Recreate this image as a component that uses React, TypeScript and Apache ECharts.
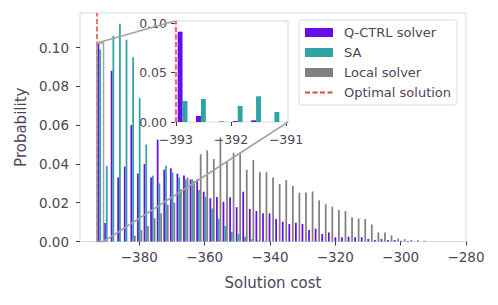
import React, { useEffect, useRef } from "react";
import * as echarts from "echarts";

// ---- data ----
const BIN_START = -393;
const BIN_WIDTH = 2.015;
const qctrl = [
  0.102, 0.0095, 0.088, 0.033, 0.0386, 0.06, 0.035, 0.04, 0.033, 0.0525,
  0.037, 0.0377, 0.035, 0.034, 0.032, 0.032, 0.0257, 0.0223, 0.023, 0.0205,
  0.0228, 0.0177, 0.0257, 0.0168, 0.0157, 0.0145, 0.0145, 0.0116, 0.0102, 0.009,
  0.0097, 0.009, 0.0059, 0.0066, 0.0039, 0.0047, 0.0022, 0.0022, 0.0025, 0.0022,
  0.0022, 0.0013, 0.0008, 0.0013, 0.0008, 0.0008, 0.0004, 0.0003, 0, 0,
];
const sa = [
  0.099, 0.039, 0.106, 0.1122, 0.104, 0.095, 0.074, 0.05, 0.034, 0.03,
  0.039, 0.0355, 0.033, 0.032, 0.032, 0.0265, 0.023, 0.017, 0.0117, 0.008,
  0.005, 0.0038, 0.0025, 0.0012, 0.0005, 0.0003, 0, 0, 0, 0,
  0, 0, 0, 0, 0, 0, 0, 0, 0, 0,
  0, 0, 0, 0, 0, 0, 0, 0, 0, 0,
];
const local = [
  0, 0, 0, 0, 0, 0.003, 0.006, 0.008, 0.012, 0.0145,
  0.019, 0.02, 0.027, 0.033, 0.031, 0.045, 0.047, 0.0425, 0.0537, 0.041,
  0.0458, 0.0455, 0.037, 0.042, 0.0357, 0.0357, 0.033, 0.0296, 0.0317, 0.0287,
  0.0252, 0.0252, 0.0258, 0.0212, 0.0192, 0.018, 0.0163, 0.0157, 0.0125, 0.0118,
  0.0116, 0.0088, 0.0047, 0.0047, 0.0032, 0.0016, 0.0012, 0.0008, 0.0007, 0.0004,
];

const INSET_BIN_START = -393;
const INSET_BIN_WIDTH = 1 / 3;
const insetQctrl = [0.0915, 0.0061, 0, 0.001, 0.0017, 0];
const insetSa = [0.0213, 0.0233, 0.0007, 0.0162, 0.026, 0.0101];
const insetLocal = [0, 0, 0, 0, 0, 0];

const OPTIMAL = -393;
const xTicks = [-380, -360, -340, -320, -300, -280];
const yTicks = [0, 0.02, 0.04, 0.06, 0.08, 0.1];
const insetXTicks = [-393, -392, -391];
const insetYTicks = [0, 0.05, 0.1];

const X_MIN = -398.17;
const X_MAX = -280;
const Y_MAX = 0.1178;
const INSET_X_MIN = -393.015;
const INSET_X_MAX = -390.965;
const INSET_Y_MAX = 0.1023;

// ---- styles ----
const FONT = "DejaVu Sans";
const TEXT = "#4f4459";
const SPINE = "#d3dbe8";
const TICK = "#3d3d3d";
const C_Q = "#6a0ce8";
const C_SA = "#2ea4a4";
const C_LOCAL = "#808080";
const C_OPT = "#e8433f";
const INDICATOR = "#a3a3a3";

const MAIN = { left: 80, top: 13, width: 386, height: 228.5 };
const INSET = { left: 175, top: 21, width: 113, height: 101 };

const minusFmt = (v: number) => (v < 0 ? "\u2212" + Math.abs(v) : String(v));

function histSeries(name: string, values: number[], start: number, width: number, slot: number, color: string, axis: number, z: number) {
  return {
    type: "custom",
    name,
    xAxisIndex: axis,
    yAxisIndex: axis,
    z,
    itemStyle: { color },
    data: values.map((v, i) => [start + i * width, v]),
    encode: { x: 0, y: 1 },
    renderItem: (params: any, api: any) => {
      const v = api.value(1);
      if (!v) return null;
      const x0 = api.value(0) + width * (0.1 + (slot * 0.8) / 3);
      const x1 = x0 + (width * 0.8) / 3;
      const p0 = api.coord([x0, v]);
      const p1 = api.coord([x1, 0]);
      return {
        type: "rect",
        shape: { x: p0[0], y: p0[1], width: p1[0] - p0[0], height: p1[1] - p0[1] },
        style: { fill: color },
      };
    },
  };
}

export default function App() {
  const ref = useRef<HTMLDivElement>(null);
  useEffect(() => {
    if (!ref.current) return;
    const chart = echarts.init(ref.current, null, { renderer: "svg" });
    const axisLabelBase = { fontFamily: FONT, color: TEXT };
    const option: any = {
      animation: false,
      backgroundColor: "#fff",
      textStyle: { fontFamily: FONT },
      grid: [
        { ...MAIN, show: true, borderColor: SPINE, borderWidth: 1, backgroundColor: "#fff", containLabel: false },
        { ...INSET, show: true, borderColor: SPINE, borderWidth: 1, backgroundColor: "#fff", containLabel: false, z: 3 },
      ],
      xAxis: [
        {
          type: "value", gridIndex: 0, min: X_MIN, max: X_MAX,
          axisLine: { show: false }, splitLine: { show: false },
          axisTick: { show: true, customValues: xTicks, length: 4, lineStyle: { color: TICK } },
          axisLabel: { ...axisLabelBase, customValues: xTicks, formatter: minusFmt, fontSize: 13.5, margin: 8 },
          name: "Solution cost", nameLocation: "middle", nameGap: 34,
          nameTextStyle: { fontFamily: FONT, color: TEXT, fontSize: 15 },
        },
        {
          type: "value", gridIndex: 1, min: INSET_X_MIN, max: INSET_X_MAX, z: 6,
          axisLine: { show: false }, splitLine: { show: false },
          axisTick: { show: true, customValues: insetXTicks, length: 4, lineStyle: { color: TICK } },
          axisLabel: { ...axisLabelBase, customValues: insetXTicks, formatter: minusFmt, fontSize: 12.5, margin: 11 },
        },
      ],
      yAxis: [
        {
          type: "value", gridIndex: 0, min: 0, max: Y_MAX,
          axisLine: { show: false }, splitLine: { show: false },
          axisTick: { show: true, customValues: yTicks, length: 4, lineStyle: { color: TICK } },
          axisLabel: { ...axisLabelBase, customValues: yTicks, formatter: (v: number) => v.toFixed(2), fontSize: 13.5, margin: 11 },
          name: "Probability", nameLocation: "middle", nameGap: 52,
          nameTextStyle: { fontFamily: FONT, color: TEXT, fontSize: 15 },
        },
        {
          type: "value", gridIndex: 1, min: 0, max: INSET_Y_MAX, z: 6,
          axisLine: { show: false }, splitLine: { show: false },
          axisTick: { show: true, customValues: insetYTicks, length: 4, lineStyle: { color: TICK } },
          axisLabel: { ...axisLabelBase, customValues: insetYTicks, formatter: (v: number) => v.toFixed(2), fontSize: 12.5, margin: 8 },
        },
      ],
      legend: {
        orient: "vertical", left: 299, top: 20,
        padding: [6, 6, 6, 5], itemGap: 7, itemWidth: 28, itemHeight: 9,
        borderColor: SPINE, borderWidth: 1, borderRadius: 3,
        backgroundColor: "rgba(255,255,255,0.8)",
        textStyle: { fontFamily: FONT, fontSize: 13, color: TEXT, padding: [0, 0, 0, 6] },
        data: [
          { name: "Q-CTRL solver", icon: "rect" },
          { name: "SA", icon: "rect" },
          { name: "Local solver", icon: "rect" },
          { name: "Optimal solution", itemStyle: { opacity: 0 } },
        ],
      },
      series: [
        histSeries("Q-CTRL solver", qctrl, BIN_START, BIN_WIDTH, 0, C_Q, 0, 2),
        histSeries("SA", sa, BIN_START, BIN_WIDTH, 1, C_SA, 0, 2),
        histSeries("Local solver", local, BIN_START, BIN_WIDTH, 2, C_LOCAL, 0, 2),
        histSeries("inset-q", insetQctrl, INSET_BIN_START, INSET_BIN_WIDTH, 0, C_Q, 1, 7),
        histSeries("inset-sa", insetSa, INSET_BIN_START, INSET_BIN_WIDTH, 1, C_SA, 1, 7),
        histSeries("inset-local", insetLocal, INSET_BIN_START, INSET_BIN_WIDTH, 2, C_LOCAL, 1, 7),
        {
          type: "custom", name: "indicator", xAxisIndex: 0, yAxisIndex: 0, z: 8, silent: true,
          data: [[INSET_X_MIN, 0, INSET_X_MAX, INSET_Y_MAX]],
          encode: { x: [0, 2], y: [1, 3] },
          renderItem: (params: any, api: any) => {
            const tl = api.coord([api.value(0), api.value(3)]);
            const br = api.coord([api.value(2), api.value(1)]);
            const style = { stroke: INDICATOR, lineWidth: 1.5, fill: "none" };
            return {
              type: "group",
              children: [
                { type: "rect", shape: { x: tl[0], y: tl[1], width: br[0] - tl[0], height: br[1] - tl[1] }, style },
                { type: "line", shape: { x1: tl[0], y1: tl[1], x2: INSET.left, y2: INSET.top }, style },
                { type: "line", shape: { x1: br[0], y1: br[1], x2: INSET.left + INSET.width, y2: INSET.top + INSET.height }, style },
              ],
            };
          },
        },
        {
          type: "line", name: "Optimal solution", xAxisIndex: 0, yAxisIndex: 0, z: 9,
          data: [[OPTIMAL, 0]], symbol: "none", showSymbol: false,
          itemStyle: { color: C_OPT },
          lineStyle: { color: C_OPT, type: [5, 2.5], width: 1.5 },
          markLine: {
            silent: true, symbol: ["none", "none"], label: { show: false },
            lineStyle: { color: C_OPT, type: [5, 2.5], width: 1.5 },
            data: [{ xAxis: OPTIMAL }],
          },
        },
        {
          type: "line", name: "inset-opt", xAxisIndex: 1, yAxisIndex: 1, z: 9,
          data: [[OPTIMAL, 0]], symbol: "none", showSymbol: false,
          lineStyle: { color: C_OPT, type: [5, 2.5], width: 1.5 },
          markLine: {
            silent: true, symbol: ["none", "none"], label: { show: false },
            lineStyle: { color: C_OPT, type: [5, 2.5], width: 1.5 },
            data: [{ xAxis: OPTIMAL }],
          },
        },
      ],
    };
    chart.setOption(option);
    return () => chart.dispose();
  }, []);
  return <div ref={ref} style={{ position: "fixed", left: 0, top: 0, width: 498, height: 305 }} />;
}
